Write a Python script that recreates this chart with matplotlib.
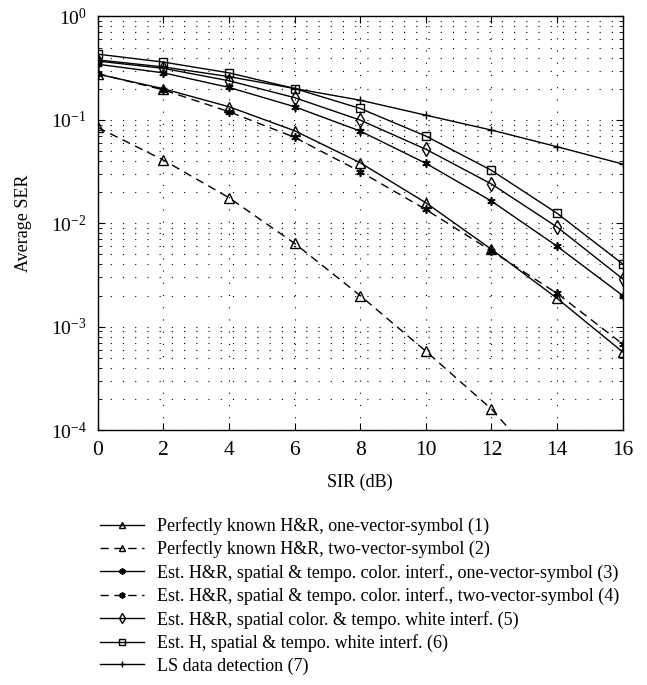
import matplotlib
matplotlib.use("Agg")
import matplotlib.pyplot as plt
import numpy as np
from matplotlib.ticker import LogLocator, NullFormatter, FixedLocator

plt.rcParams['font.family'] = ['Liberation Serif', 'DejaVu Serif']
plt.rcParams['mathtext.fontset'] = 'stix'

sir = [0, 2, 4, 6, 8, 10, 12, 14, 16]

ser_1 = [0.277, 0.200, 0.134, 0.0785, 0.0385, 0.0158, 0.0056, 0.00188, 0.00057]
ser_2 = [0.0846, 0.0409, 0.0177, 0.0064, 0.0020, 0.00058, 0.00016, 0.000031, 0.000006]
ser_3 = [0.345, 0.285, 0.206, 0.134, 0.078, 0.038, 0.0164, 0.0060, 0.0020]
ser_4 = [0.280, 0.195, 0.120, 0.0678, 0.0316, 0.0136, 0.0054, 0.0021, 0.00068]
ser_5 = [0.37, 0.315, 0.239, 0.164, 0.0995, 0.052, 0.024, 0.0092, 0.0029]
ser_6 = [0.432, 0.362, 0.285, 0.201, 0.129, 0.0697, 0.0325, 0.0125, 0.00404]
ser_7 = [0.38, 0.325, 0.262, 0.201, 0.155, 0.111, 0.0797, 0.055, 0.0374]

labels = [
    "Perfectly known H&R, one-vector-symbol (1)",
    "Perfectly known H&R, two-vector-symbol (2)",
    "Est. H&R, spatial & tempo. color. interf., one-vector-symbol (3)",
    "Est. H&R, spatial & tempo. color. interf., two-vector-symbol (4)",
    "Est. H&R, spatial color. & tempo. white interf. (5)",
    "Est. H, spatial & tempo. white interf. (6)",
    "LS data detection (7)",
]

x_ticks = [0, 2, 4, 6, 8, 10, 12, 14, 16]

fig = plt.figure(figsize=(6.47, 6.85), dpi=100)
ax = fig.add_axes([0.151, 0.372, 0.8115, 0.604])

asterisk = (6, 2, 0)
styles = [
    dict(ls='-', marker='^', ms=6.5, mfc='none'),
    dict(ls=(0, (6, 4)), marker='^', ms=6.5, mfc='none'),
    dict(ls='-', marker=asterisk, ms=6, mew=1.2),
    dict(ls=(0, (6, 4)), marker=asterisk, ms=6, mew=1.2),
    dict(ls='-', marker='d', ms=7, mfc='none'),
    dict(ls='-', marker='s', ms=5.5, mfc='none'),
    dict(ls='-', marker='+', ms=6),
]
series = [ser_1, ser_2, ser_3, ser_4, ser_5, ser_6, ser_7]
for y, st, lab in zip(series, styles, labels):
    ax.plot(sir, y, color='black', lw=1.0, mec='black', label=lab, clip_on=True, **st)

ax.set_yscale('log')
ax.set_ylim(1e-4, 1)
ax.set_xlim(0, 16)
ax.xaxis.set_major_locator(FixedLocator(x_ticks))
ax.yaxis.set_major_locator(LogLocator(base=10, numticks=10))
ax.yaxis.set_minor_locator(LogLocator(base=10, subs=np.arange(2, 10), numticks=20))
ax.yaxis.set_minor_formatter(NullFormatter())

gridkw = dict(color='black', lw=0.8, ls=(0, (1, 10)))
ax.grid(True, which='major', axis='both', **gridkw)
ax.grid(True, which='minor', axis='y', **gridkw)

ax.tick_params(which='both', direction='in', top=True, right=True)
ax.tick_params(axis='x', labelsize=15.5, pad=8)
ax.tick_params(axis='y', labelsize=14, pad=8)
ax.tick_params(which='major', length=5)
ax.tick_params(which='minor', length=3)
for sp in ax.spines.values():
    sp.set_linewidth(1.0)

ax.set_xlabel('SIR (dB)', fontsize=13)
ax.set_ylabel('Average SER', fontsize=13)
ax.xaxis.set_label_coords(0.5, -0.104)
ax.yaxis.set_label_coords(-0.125, 0.5)

fig.legend(loc='upper left', bbox_to_anchor=(0.155, 0.245), frameon=False,
           fontsize=13, handlelength=2.4, handletextpad=0.75, labelspacing=0.3,
           markerscale=0.75, borderaxespad=0, borderpad=0)

fig.savefig('out.png', dpi=100)
